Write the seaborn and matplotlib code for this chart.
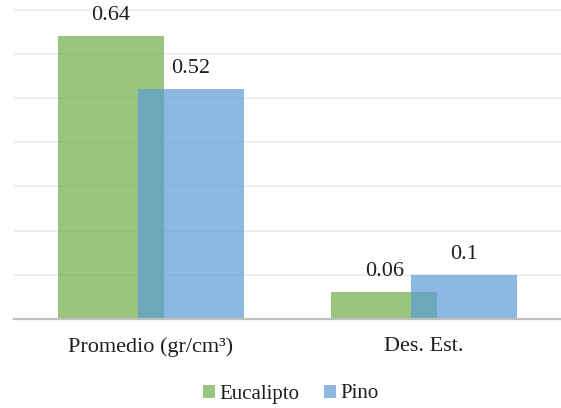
import matplotlib
matplotlib.use("Agg")
import matplotlib.pyplot as plt
import seaborn as sns
import pandas as pd

categorias = ["Promedio (gr/cm³)", "Des. Est."]
eucalipto = [0.64, 0.06]
pino = [0.52, 0.10]
series = ["Eucalipto", "Pino"]
colores = ["#70AD47", "#5B9BD5"]

df = pd.DataFrame({
    "categoria": categorias * 2,
    "valor": eucalipto + pino,
    "serie": [series[0]] * len(categorias) + [series[1]] * len(categorias),
})

sns.set_theme(style="white")
fuente = ["Liberation Serif", "DejaVu Serif"]
plt.rcParams["font.family"] = fuente
texto = "#1F1F1F"
tam = 16

fig = plt.figure(figsize=(5.61, 4.08), dpi=100)
ax = fig.add_axes([14 / 561, 89 / 408, 1 - 14 / 561, 319 / 408])

# overlapping bars: dodged pairs widened past their slot
sns.barplot(data=df, x="categoria", y="valor", hue="serie", order=categorias,
            hue_order=series, palette=colores, saturation=1, errorbar=None,
            width=0.585, gap=-0.326, alpha=0.7, linewidth=0, ax=ax)

ax.set_xlim(-0.5, 1.5)
ax.set_ylim(0, 0.7215)
ax.set_yticks([i / 10 for i in range(8)])
ax.set_yticklabels([])
ax.tick_params(axis="y", length=0)
ax.tick_params(axis="x", length=0, labelsize=tam, labelcolor=texto, pad=13)
for lbl in ax.get_xticklabels():
    lbl.set_family(fuente)
ax.yaxis.grid(True, color="#EDEDED", linewidth=1.3)
ax.set_axisbelow(True)
for s in ["top", "right", "left"]:
    ax.spines[s].set_visible(False)
ax.spines["bottom"].set_color("#BFBFBF")
ax.spines["bottom"].set_linewidth(1.6)
ax.set_xlabel("")
ax.set_ylabel("")

for cont in ax.containers:
    ax.bar_label(cont, fmt="%g", padding=8, fontsize=tam, color=texto,
                 family=fuente)

sns.move_legend(ax, "center", bbox_to_anchor=(291 / 561, 14 / 408),
                bbox_transform=fig.transFigure, ncol=2, frameon=False,
                title=None, prop={"family": fuente, "size": 15},
                handlelength=0.58, handleheight=0.58, handletextpad=0.2,
                columnspacing=1.2)
for t in ax.get_legend().get_texts():
    t.set_color(texto)

fig.savefig("out.png", dpi=100)
